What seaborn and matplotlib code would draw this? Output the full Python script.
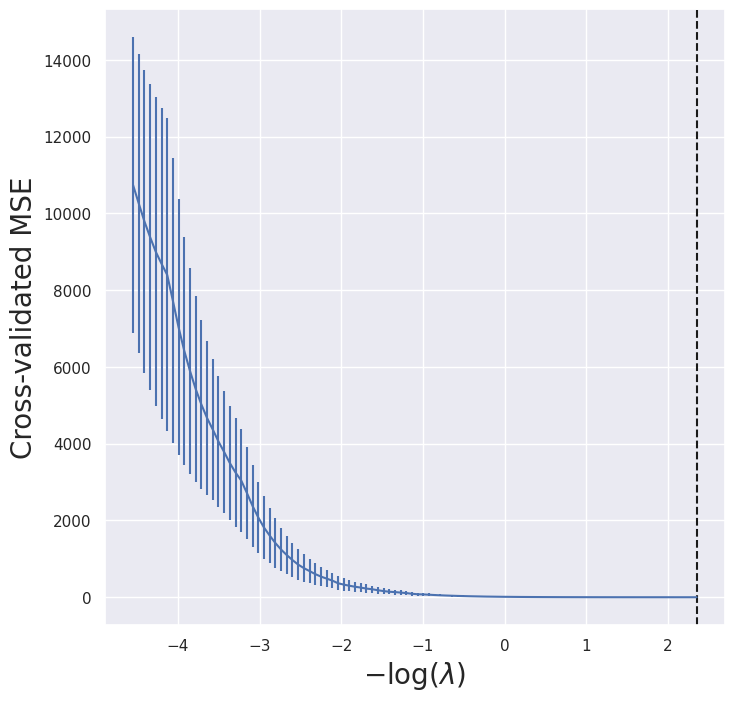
import matplotlib
matplotlib.use("Agg")
from matplotlib import pyplot as plt
import seaborn as sns
import numpy as np

# grid of -log(lambda) values, 100 evenly spaced points
neg_log_lambda = np.linspace(-4.55, 2.35, 100)

cv_mse = [
    10740, 10260, 9790, 9381, 8998, 8690, 8398, 7721, 7030, 6417,
    5896, 5427, 5022, 4670, 4371, 4058, 3784, 3497, 3250, 3041,
    2716, 2376, 2077, 1816, 1607, 1412, 1243, 1099, 969, 851,
    760, 682, 604, 539, 486, 434, 365, 330, 300, 274,
    252, 226, 209, 183, 161, 144, 135, 122, 109, 91,
    78, 74, 66, 58, 51, 45, 40, 35, 31, 27,
    24, 21, 18, 16, 14, 12, 11, 9.5, 8.3, 7.3,
    6.4, 5.6, 4.9, 4.3, 3.8, 3.3, 2.9, 2.6, 2.3, 2.0,
    1.8, 1.6, 1.4, 1.3, 1.2, 1.1, 1.0, 0.95, 0.9, 0.85,
    0.8, 0.78, 0.75, 0.73, 0.71, 0.7, 0.69, 0.68, 0.67, 0.66,
]

cv_se = [
    3850, 3895, 3940, 3980, 4024, 4045, 4076, 3711, 3333, 2981,
    2695, 2434, 2212, 2016, 1847, 1717, 1599, 1495, 1430, 1352,
    1209, 1078, 935, 831, 726, 661, 570, 505, 453, 413,
    374, 322, 296, 257, 231, 205, 183, 165, 143, 135,
    122, 113, 96, 87, 74, 70, 65, 61, 56, 48,
    43, 39, 35, 31, 27, 24, 21, 18, 16, 14,
    12, 11, 9.5, 8.3, 7.3, 6.4, 5.6, 4.9, 4.3, 3.8,
    3.3, 2.9, 2.6, 2.3, 2.0, 1.8, 1.6, 1.4, 1.2, 1.1,
    1.0, 0.9, 0.8, 0.7, 0.65, 0.6, 0.55, 0.5, 0.48, 0.46,
    0.44, 0.42, 0.4, 0.39, 0.38, 0.37, 0.36, 0.35, 0.35, 0.35,
]

best_idx = int(np.argmin(cv_mse))

sns.set_theme(style="darkgrid")

fig, ax = plt.subplots(figsize=(8, 8))
ax.errorbar(neg_log_lambda, cv_mse, yerr=cv_se)
ax.axvline(neg_log_lambda[best_idx], c='k', ls='--')
ax.set_xlabel(r'$-\log(\lambda)$', fontsize=20)
ax.set_ylabel('Cross-validated MSE', fontsize=20,
              family=['Liberation Sans Narrow', 'DejaVu Sans'])

plt.savefig("out.png", dpi=100, bbox_inches='tight')
